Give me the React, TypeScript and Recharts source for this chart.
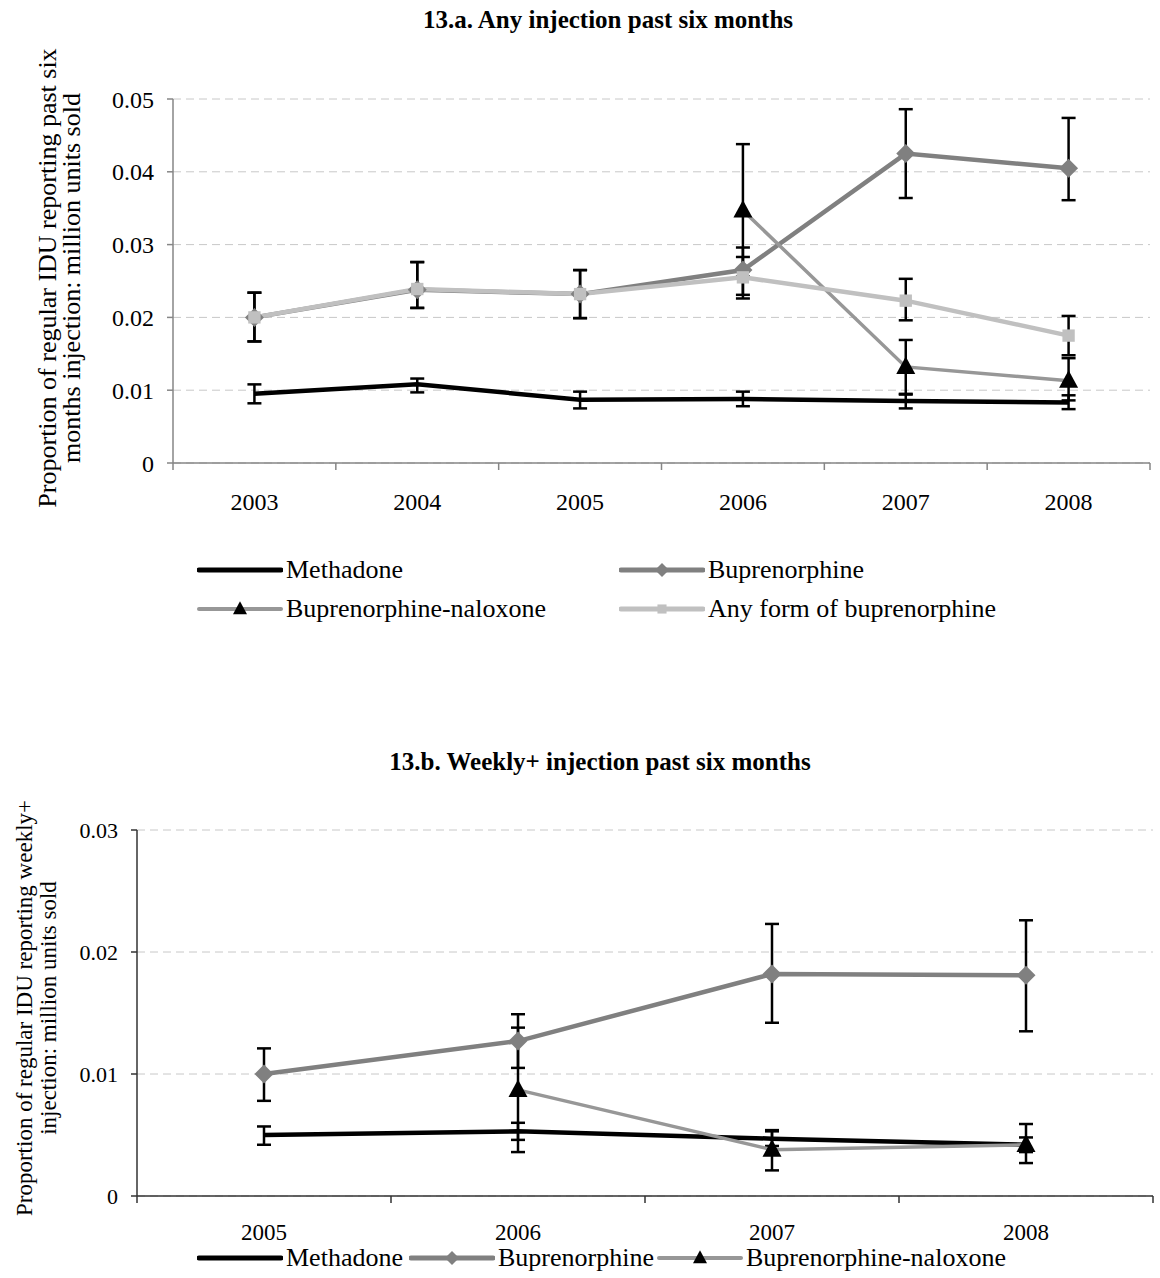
import React from "react";
import { CartesianGrid, ErrorBar, Line, LineChart, XAxis, YAxis } from "recharts";

// 13.a — any injection past six months
const yearsA = ["2003", "2004", "2005", "2006", "2007", "2008"];
const methadoneA = [0.0095, 0.0108, 0.0087, 0.0088, 0.0085, 0.0083];
const methadoneALo = [0.0082, 0.0097, 0.0075, 0.0078, 0.0075, 0.0074];
const methadoneAHi = [0.0108, 0.0116, 0.0098, 0.0098, 0.0095, 0.0093];
const bupA = [0.02, 0.0238, 0.0232, 0.0265, 0.0425, 0.0405];
const bupALo = [0.0167, 0.0213, 0.0199, 0.0231, 0.0364, 0.0361];
const bupAHi = [0.0234, 0.0276, 0.0265, 0.0296, 0.0486, 0.0474];
const bnxA = [null, null, null, 0.0347, 0.0132, 0.0113];
const bnxALo = [null, null, null, 0.0256, 0.0094, 0.0086];
const bnxAHi = [null, null, null, 0.0438, 0.0169, 0.0144];
const anyA = [0.02, 0.0239, 0.0232, 0.0255, 0.0223, 0.0175];
const anyALo = [0.0167, 0.0213, 0.0199, 0.0226, 0.0196, 0.0148];
const anyAHi = [0.0234, 0.0276, 0.0265, 0.0283, 0.0253, 0.0202];
const ticksA = [0, 0.01, 0.02, 0.03, 0.04, 0.05];

// 13.b — weekly+ injection past six months
const yearsB = ["2005", "2006", "2007", "2008"];
const methadoneB = [0.005, 0.0053, 0.0047, 0.0042];
const methadoneBLo = [0.0042, 0.0046, 0.0041, 0.0036];
const methadoneBHi = [0.0057, 0.006, 0.0053, 0.0048];
const bupB = [0.01, 0.0127, 0.0182, 0.0181];
const bupBLo = [0.0078, 0.0105, 0.0142, 0.0135];
const bupBHi = [0.0121, 0.0149, 0.0223, 0.0226];
const bnxB = [null, 0.0087, 0.0038, 0.0042];
const bnxBLo = [null, 0.0036, 0.0021, 0.0027];
const bnxBHi = [null, 0.0138, 0.0054, 0.0059];
const ticksB = [0, 0.01, 0.02, 0.03];

const FONT = '"Liberation Serif", "Times New Roman", serif';
const AXIS = "#868686";

type Marker = "none" | "diamond" | "triangle" | "square";
type Style = { name: string; color: string; width: number; marker: Marker };

const styles: Record<string, Style> = {
  meth: { name: "Methadone", color: "#000000", width: 4.5, marker: "none" },
  bup: { name: "Buprenorphine", color: "#808080", width: 4.5, marker: "diamond" },
  bnx: { name: "Buprenorphine-naloxone", color: "#979797", width: 3.5, marker: "triangle" },
  any: { name: "Any form of buprenorphine", color: "#c0c0c0", width: 4.5, marker: "square" },
};

function buildRows(years: string[], series: { key: string; v: (number | null)[]; lo: (number | null)[]; hi: (number | null)[] }[]) {
  return years.map((year, i) => {
    const row: Record<string, any> = { year };
    series.forEach((s) => {
      const v = s.v[i];
      row[s.key] = v;
      row[s.key + "Err"] = v == null || s.lo[i] == null ? null : [v - (s.lo[i] as number), (s.hi[i] as number) - v];
    });
    return row;
  });
}

const rowsA = buildRows(yearsA, [
  { key: "meth", v: methadoneA, lo: methadoneALo, hi: methadoneAHi },
  { key: "bup", v: bupA, lo: bupALo, hi: bupAHi },
  { key: "bnx", v: bnxA, lo: bnxALo, hi: bnxAHi },
  { key: "any", v: anyA, lo: anyALo, hi: anyAHi },
]);

const rowsB = buildRows(yearsB, [
  { key: "meth", v: methadoneB, lo: methadoneBLo, hi: methadoneBHi },
  { key: "bup", v: bupB, lo: bupBLo, hi: bupBHi },
  { key: "bnx", v: bnxB, lo: bnxBLo, hi: bnxBHi },
]);

function drawMarker(kind: Marker, cx: number, cy: number, s: number, color: string, key?: string) {
  if (kind === "diamond")
    return <path key={key} d={`M${cx} ${cy - s} L${cx + s} ${cy} L${cx} ${cy + s} L${cx - s} ${cy} Z`} fill="#808080" />;
  if (kind === "triangle")
    return <path key={key} d={`M${cx} ${cy - s * 1.1} L${cx + s} ${cy + s * 0.75} L${cx - s} ${cy + s * 0.75} Z`} fill="#000" />;
  if (kind === "square")
    return <rect key={key} x={cx - s * 0.65} y={cy - s * 0.65} width={s * 1.3} height={s * 1.3} fill={color} />;
  return <g key={key} />;
}

const dotFor = (st: Style) => (p: any) => {
  if (p.cx == null || p.cy == null || p.value == null) return <g key={`e-${p.index}`} />;
  return drawMarker(st.marker, p.cx, p.cy, 9.5, st.color, `m-${p.index}`);
};

function yearTick(band: number, count: number, labelGap: number, size: number, color: string) {
  return (p: any) => {
    const { x, y, payload, index } = p;
    return (
      <g>
        <line x1={x - band / 2} x2={x - band / 2} y1={y} y2={y + 7} stroke={color} strokeWidth={1.5} />
        {index === count - 1 && <line x1={x + band / 2} x2={x + band / 2} y1={y} y2={y + 7} stroke={color} strokeWidth={1.5} />}
        <text x={x} y={y + labelGap} dy="0.35em" textAnchor="middle" fontFamily={FONT} fontSize={size} fill="#000">
          {payload.value}
        </text>
      </g>
    );
  };
}

const fmt = (v: number) => (v === 0 ? "0" : v.toFixed(2));

function series(key: string) {
  const st = styles[key];
  return (
    <Line
      key={key}
      dataKey={key}
      stroke={st.color}
      strokeWidth={st.width}
      dot={dotFor(st)}
      activeDot={false}
      connectNulls={false}
      isAnimationActive={false}
    >
      <ErrorBar dataKey={key + "Err"} direction="y" width={7} stroke="#000" strokeWidth={2.5} />
    </Line>
  );
}

function Swatch({ st }: { st: Style }) {
  return (
    <svg width={86} height={24} style={{ display: "block" }}>
      <line x1={2} x2={84} y1={12} y2={12} stroke={st.color} strokeWidth={st.width + 0.5} strokeLinecap="round" />
      {drawMarker(st.marker, 43, 12, 7, st.color)}
    </svg>
  );
}

function LegendItem({ st, left, top }: { st: Style; left: number; top: number }) {
  return (
    <div style={{ position: "absolute", left, top: top - 14, display: "flex", alignItems: "center", height: 28 }}>
      <Swatch st={st} />
      <span style={{ fontFamily: FONT, fontSize: 26, marginLeft: 3, whiteSpace: "nowrap" }}>{st.name}</span>
    </div>
  );
}

function Title({ text, top, cx }: { text: string; top: number; cx: number }) {
  return (
    <div style={{ position: "absolute", left: cx - 600, width: 1200, top: top - 15, textAlign: "center", fontFamily: FONT, fontWeight: "bold", fontSize: 25, lineHeight: "30px" }}>
      {text}
    </div>
  );
}

function YLabel({ lines, cx, cy, size }: { lines: string[]; cx: number; cy: number; size: number }) {
  return (
    <div
      style={{
        position: "absolute",
        left: cx,
        top: cy,
        transform: "translate(-50%, -50%) rotate(-90deg)",
        fontFamily: FONT,
        fontSize: size,
        lineHeight: "24px",
        textAlign: "center",
        whiteSpace: "nowrap",
      }}
    >
      {lines[0]}
      <br />
      {lines[1]}
    </div>
  );
}

export default function App() {
  return (
    <div style={{ position: "absolute", left: 0, top: 0, width: 1160, height: 1278, background: "#fff", overflow: "hidden" }}>
      <Title text="13.a. Any injection past six months" top={20} cx={608} />
      <YLabel lines={["Proportion of regular IDU reporting past six", "months injection: million units sold"]} cx={60} cy={278} size={26} />
      <div style={{ position: "absolute", left: 0, top: 0 }}>
        <LineChart width={1160} height={520} data={rowsA} margin={{ top: 99, right: 10, left: 113, bottom: 17 }}>
          <CartesianGrid vertical={false} stroke="#c8c8c8" strokeDasharray="8 5" />
          <XAxis dataKey="year" scale="band" height={40} stroke={AXIS} strokeWidth={1.5} tickLine={false} tickSize={0} tickMargin={0} interval={0} tick={yearTick(977 / 6, 6, 39, 24, AXIS)} />
          <YAxis
            domain={[0, 0.05]}
            ticks={ticksA}
            width={60}
            stroke={AXIS}
            strokeWidth={1.5}
            tickSize={6}
            tickMargin={13}
            tickFormatter={fmt}
            tick={{ fill: "#000", fontFamily: FONT, fontSize: 24 }}
          />
          {series("meth")}
          {series("bup")}
          {series("bnx")}
          {series("any")}
        </LineChart>
      </div>
      <LegendItem st={styles.meth} left={197} top={570} />
      <LegendItem st={styles.bup} left={619} top={570} />
      <LegendItem st={styles.bnx} left={197} top={609} />
      <LegendItem st={styles.any} left={619} top={609} />

      <Title text="13.b. Weekly+ injection past six months" top={762} cx={600} />
      <YLabel lines={["Proportion of regular IDU reporting weekly+", "injection: million units sold"]} cx={37} cy={1008} size={23} />
      <div style={{ position: "absolute", left: 0, top: 740 }}>
        <LineChart width={1160} height={520} data={rowsB} margin={{ top: 90, right: 7, left: 77, bottom: 24 }}>
          <CartesianGrid vertical={false} stroke="#c8c8c8" strokeDasharray="8 5" />
          <XAxis dataKey="year" scale="band" height={40} stroke="#333" strokeWidth={1.5} tickLine={false} tickSize={0} tickMargin={0} interval={0} tick={yearTick(1016 / 4, 4, 36, 23, "#333")} />
          <YAxis
            domain={[0, 0.03]}
            ticks={ticksB}
            width={60}
            stroke="#333"
            strokeWidth={1.5}
            tickSize={6}
            tickMargin={13}
            tickFormatter={fmt}
            tick={{ fill: "#000", fontFamily: FONT, fontSize: 22 }}
          />
          {series("meth")}
          {series("bup")}
          {series("bnx")}
        </LineChart>
      </div>
      <LegendItem st={styles.meth} left={197} top={1258} />
      <LegendItem st={styles.bup} left={409} top={1258} />
      <LegendItem st={styles.bnx} left={657} top={1258} />
    </div>
  );
}
